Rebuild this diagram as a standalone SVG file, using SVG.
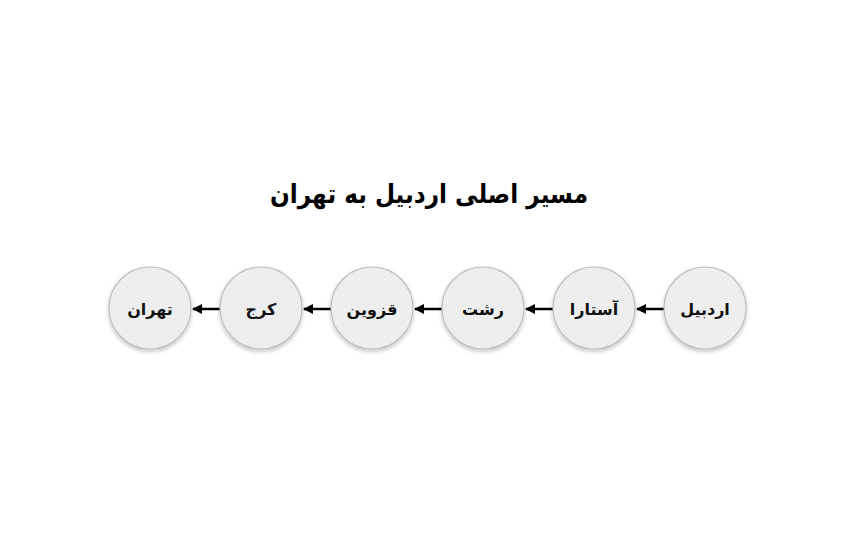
<svg xmlns="http://www.w3.org/2000/svg" width="860" height="550" viewBox="0 0 860 550">
<defs>
<pattern id="hatch" width="4" height="4" patternUnits="userSpaceOnUse" patternTransform="rotate(45)">
<rect width="4" height="4" fill="#efefef"/>
<line x1="0" y1="0" x2="0" y2="4" stroke="#e6e6e6" stroke-width="1"/>
</pattern>
<filter id="sh" x="-30%" y="-30%" width="160%" height="160%">
<feGaussianBlur in="SourceAlpha" stdDeviation="2"/>
<feOffset dx="0" dy="2" result="b"/>
<feComponentTransfer><feFuncA type="linear" slope="0.25"/></feComponentTransfer>
<feMerge><feMergeNode/><feMergeNode in="SourceGraphic"/></feMerge>
</filter>
<marker id="arr" markerWidth="10" markerHeight="10" refX="9" refY="5" orient="auto" markerUnits="userSpaceOnUse">
<path d="M0,0 L10,5 L0,10 Z" fill="#000"/>
</marker>
</defs>
<style>
.node circle{fill:url(#hatch);stroke:#bdbdb8;stroke-width:1.2;filter:url(#sh)}
.node text{font-family:"DejaVu Sans",sans-serif;font-size:16px;font-weight:bold;fill:#111;text-anchor:middle}
.conn line{stroke:#000;stroke-width:2.5;marker-end:url(#arr)}
.title{font-family:"DejaVu Sans",sans-serif;font-size:26px;font-weight:bold;fill:#000;text-anchor:middle}
</style>
<rect width="860" height="550" fill="#fff"/>
<text class="title" x="429" y="203" textLength="318" lengthAdjust="spacingAndGlyphs">مسیر اصلی اردبیل به تهران</text>
<g id="connectors" class="conn">
<line x1="664" y1="309" x2="637" y2="309"/>
<line x1="553" y1="309" x2="526" y2="309"/>
<line x1="442" y1="309" x2="415" y2="309"/>
<line x1="331" y1="309" x2="304" y2="309"/>
<line x1="220" y1="309" x2="193" y2="309"/>
</g>
<g id="n-ardabil" class="node"><circle cx="705" cy="308" r="41"/><text x="705" y="315">اردبیل</text></g>
<g id="n-astara" class="node"><circle cx="594" cy="308" r="41"/><text x="594" y="315">آستارا</text></g>
<g id="n-rasht" class="node"><circle cx="483" cy="308" r="41"/><text x="483" y="315">رشت</text></g>
<g id="n-qazvin" class="node"><circle cx="372" cy="308" r="41"/><text x="372" y="315">قزوین</text></g>
<g id="n-karaj" class="node"><circle cx="261" cy="308" r="41"/><text x="261" y="315">کرج</text></g>
<g id="n-tehran" class="node"><circle cx="150" cy="308" r="41"/><text x="150" y="315">تهران</text></g>
</svg>
